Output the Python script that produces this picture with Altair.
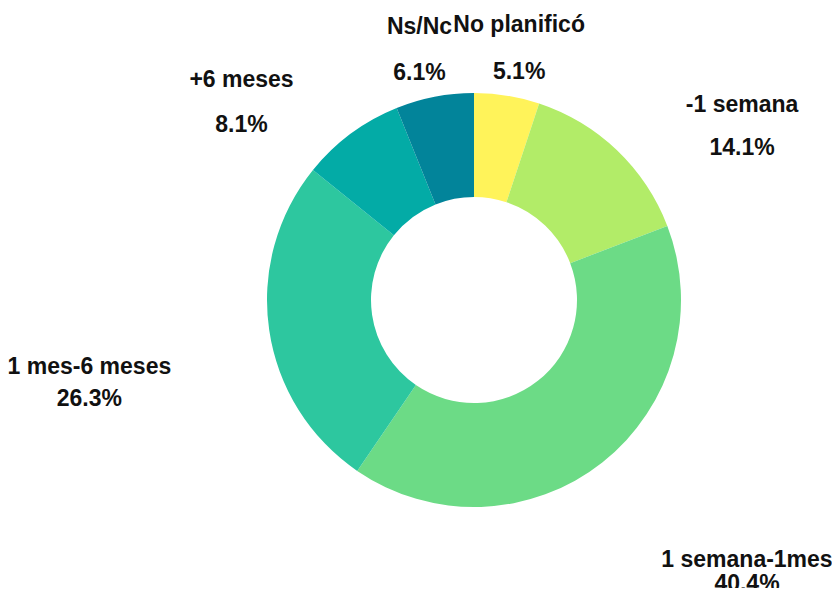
import altair as alt
import pandas as pd

# ---- data ----
categories = ["No planificó", "-1 semana", "1 semana-1mes", "1 mes-6 meses", "+6 meses", "Ns/Nc"]
values = [5.1, 14.1, 40.4, 26.3, 8.1, 6.1]
colors = ["#fff35a", "#b2ec68", "#6cdb86", "#2dc79f", "#03aba6", "#02849a"]

df = pd.DataFrame({"cat": categories, "value": values, "idx": list(range(len(categories)))})

# layout constants
CX, CY = 466, 292          # donut centre inside the plot area
R_OUT, R_IN = 207, 103
FONT = "Liberation Sans"
FS = 23
CHAR_W = 0.574 * FS        # rough average bold glyph width

base = alt.Chart(df)

arcs = base.mark_arc(
    innerRadius=R_IN, outerRadius=R_OUT, x=CX, y=CY
).encode(
    theta=alt.Theta("value:Q", stack=True),
    color=alt.Color("cat:N", scale=alt.Scale(domain=categories, range=colors), legend=None),
    order=alt.Order("idx:Q", sort="ascending"),
)

labels_base = base.transform_joinaggregate(
    total="sum(value)"
).transform_window(
    cum="sum(value)", sort=[alt.SortField("idx", order="ascending")], frame=[None, 0]
).transform_calculate(
    mid="(datum.cum - datum.value / 2) / datum.total * 2 * PI",
    s="sin(datum.mid)",
    c="cos(datum.mid)",
    side="abs(datum.s) > 0.5 ? (datum.s > 0 ? 1 : -1) : 0",
    w=f"length(datum.cat) * {CHAR_W}",
    bx=f"{CX} + 302 * datum.s + datum.side * datum.w / 2 - (datum.side == 0 ? 3 * (datum.s > 0 ? 1 : -1) : 0)",
    ny=f"{CY + 30} - 302 * datum.c",
    py=f"{CY + 64} - 289 * datum.c",
    pct="format(datum.value, '.1f') + '%'",
)

name_text = labels_base.mark_text(
    font=FONT, fontSize=FS, fontWeight="bold", color="#111111",
    align="center", baseline="alphabetic",
).encode(
    x=alt.X("bx:Q", scale=None, axis=None),
    y=alt.Y("ny:Q", scale=None, axis=None),
    text="cat:N",
)

pct_text = labels_base.mark_text(
    font=FONT, fontSize=FS, fontWeight="bold", color="#111111",
    align="center", baseline="alphabetic",
).encode(
    x=alt.X("bx:Q", scale=None, axis=None),
    y=alt.Y("py:Q", scale=None, axis=None),
    text="pct:N",
)

chart = alt.layer(arcs, name_text, pct_text).properties(
    width=824, height=580, padding=0, autosize=alt.AutoSizeParams(type="none")
).configure_view(strokeWidth=0, strokeOpacity=0)

chart.save("out.html", embed_options={"renderer": "svg", "actions": False})
